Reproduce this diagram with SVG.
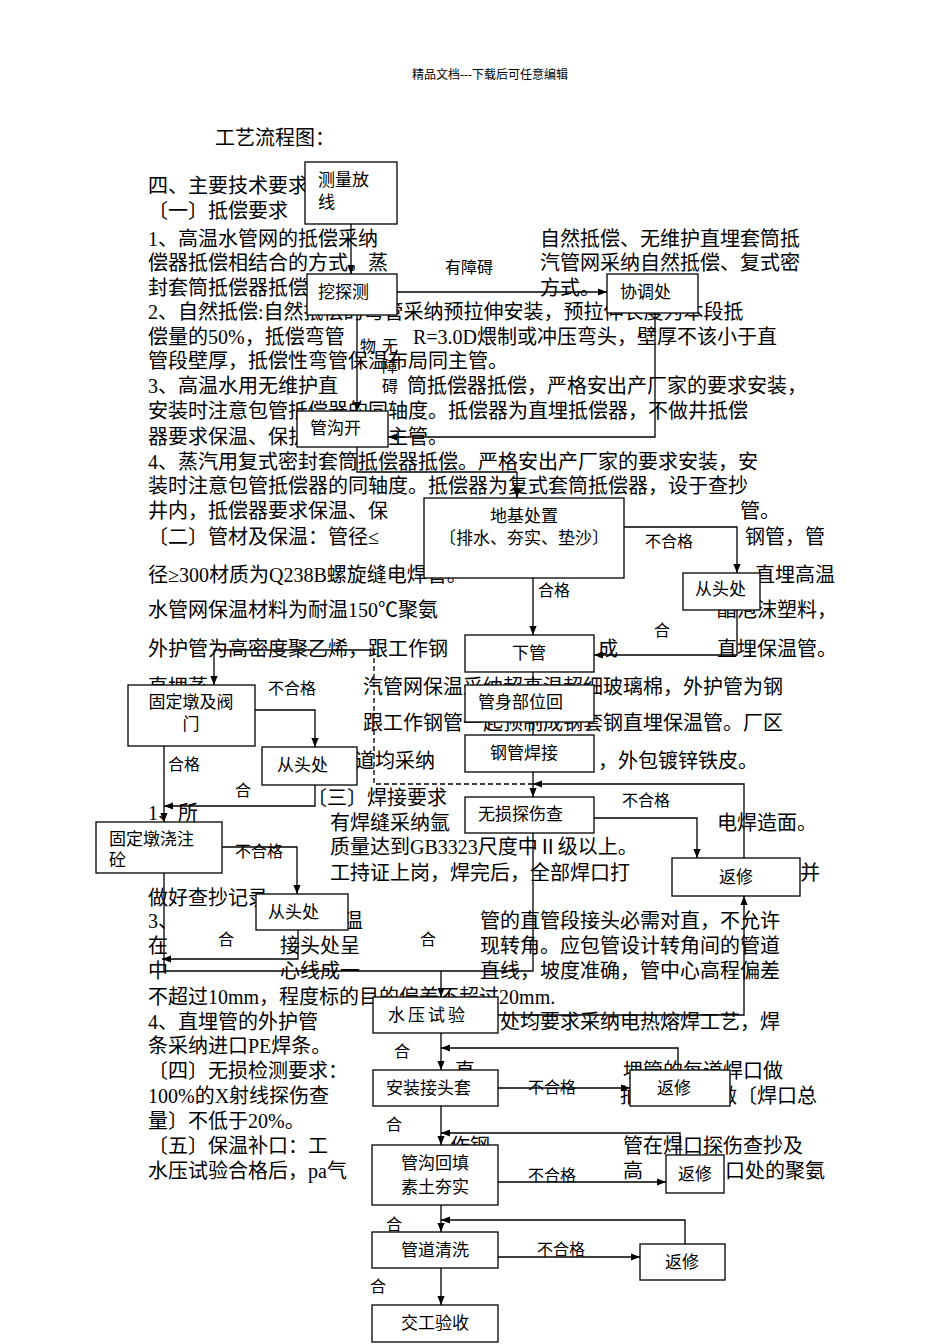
<svg xmlns="http://www.w3.org/2000/svg" width="950" height="1344" viewBox="0 0 950 1344">
<defs>
<marker id="a" viewBox="0 0 10 10" refX="10" refY="5" markerWidth="7" markerHeight="7" orient="auto"><path d="M0,1 L10,5 L0,9 z" fill="#000"/></marker>
<style>
text{font-family:"Liberation Serif","Noto Sans CJK SC",serif;fill:#000}
.b{font-size:20px}
.n{font-size:17px}
.l{font-size:16px}
rect{fill:#fff;stroke:#000;stroke-width:1.3}
.c path{fill:none;stroke:#000;stroke-width:1.3;marker-end:url(#a)}
.c .p{marker-end:none}
.c .d{stroke-dasharray:5,3;marker-end:none}
</style>
</defs>
<rect x="0" y="0" width="950" height="1344" style="stroke:none"/>
<g id="bodytext" class="b">
<text x="490" y="79" text-anchor="middle" style="font-size:12px">精品文档---下载后可任意编辑</text>
<text x="215" y="145">工艺流程图：</text>
<text x="148" y="193">四、主要技术要求</text>
<text x="148" y="218">〔一〕抵偿要求</text>
<text x="148" y="246">1、高温水管网的抵偿采纳</text><text x="540" y="246">自然抵偿、无维护直埋套筒抵</text>
<text x="148" y="270">偿器抵偿相结合的方式。蒸</text><text x="540" y="270">汽管网采纳自然抵偿、复式密</text>
<text x="148" y="295">封套筒抵偿器抵偿的</text><text x="540" y="295">方式。</text>
<text x="148" y="319">2、自然抵偿:自然抵偿的弯管采纳预拉伸安装，预拉伸长度为本段抵</text>
<text x="148" y="344">偿量的50%，抵偿弯管</text><text x="413" y="344">R=3.0D煨制或冲压弯头，壁厚不该小于直</text>
<text x="148" y="368">管段壁厚，抵偿性弯管保温布局同主管。</text>
<text x="148" y="393">3、高温水用无维护直</text><text x="407" y="393">筒抵偿器抵偿，严格安出产厂家的要求安装，</text>
<text x="148" y="418">安装时注意包管抵偿器的同轴度。抵偿器为直埋抵偿器，不做井抵偿</text>
<text x="148" y="444">器要求保温、保护，效果同主管。</text>
<text x="148" y="469">4、蒸汽用复式密封套筒抵偿器抵偿。严格安出产厂家的要求安装，安</text>
<text x="148" y="493">装时注意包管抵偿器的同轴度。抵偿器为复式套筒抵偿器，设于查抄</text>
<text x="148" y="518">井内，抵偿器要求保温、保</text><text x="740" y="518">管。</text>
<text x="148" y="544">〔二〕管材及保温：管径≤</text><text x="745" y="544">钢管，管</text>
<text x="148" y="582">径≥300材质为Q238B螺旋缝电焊管。</text><text x="755" y="582">直埋高温</text>
<text x="148" y="617">水管网保温材料为耐温150℃聚氨</text><text x="717" y="617">酯泡沫塑料，</text>
<text x="148" y="656">外护管为高密度聚乙烯，跟工作钢</text><text x="598" y="656">成</text><text x="717" y="656">直埋保温管。</text>
<text x="148" y="694">直埋蒸</text><text x="363" y="694">汽管网保温采纳超高温超细玻璃棉，外护管为钢</text>
<text x="363" y="730">跟工作钢管一起预制成钢套钢直埋保温管。厂区</text>
<text x="335" y="768">管道均采纳</text><text x="598" y="768">，外包镀锌铁皮。</text>
<text x="148" y="820">1、所</text><text x="307" y="805">〔三〕焊接要求</text>
<text x="330" y="830">有焊缝采纳氩</text><text x="717" y="830">电焊造面。</text>
<text x="330" y="854">质量达到GB3323尺度中Ⅱ级以上。</text>
<text x="330" y="880">工持证上岗，焊完后，全部焊口打</text><text x="800" y="880">并</text>
<text x="148" y="905">做好查抄记录</text>
<text x="148" y="928">3、</text><text x="343" y="928">温</text><text x="480" y="928">管的直管段接头必需对直，不允许</text>
<text x="148" y="953">在</text><text x="280" y="953">接头处呈</text><text x="480" y="953">现转角。应包管设计转角间的管道</text>
<text x="148" y="978">中</text><text x="280" y="978">心线成一</text><text x="480" y="978">直线，坡度准确，管中心高程偏差</text>
<text x="148" y="1004">不超过10mm，程度标的目的偏差不超过20mm.</text>
<text x="148" y="1029">4、直埋管的外护管</text><text x="500" y="1029">处均要求采纳电热熔焊工艺，焊</text>
<text x="148" y="1053">条采纳进口PE焊条。</text>
<text x="148" y="1078">〔四〕无损检测要求：</text><text x="455" y="1078">直</text><text x="623" y="1078">埋管的每道焊口做</text>
<text x="148" y="1103">100%的X射线探伤查</text><text x="620" y="1103">抽</text><text x="717" y="1103">做〔焊口总</text>
<text x="148" y="1128">量〕不低于20%。</text>
<text x="148" y="1153">〔五〕保温补口：工</text><text x="450" y="1153">作钢</text><text x="623" y="1153">管在焊口探伤查抄及</text>
<text x="148" y="1178">水压试验合格后，pa气</text><text x="623" y="1178">高</text><text x="725" y="1178">口处的聚氨</text>
</g>
<g id="n1"><rect x="305" y="162" width="92" height="62"/><text class="n" x="318" y="186">测量放</text><text class="n" x="318" y="208">线</text></g>
<g id="n2"><rect x="307" y="274" width="90" height="41"/><text class="n" x="318" y="298">挖探测</text></g>
<g id="n3"><rect x="607" y="274" width="91" height="39"/><text class="n" x="620" y="298">协调处</text></g>
<g id="n4"><rect x="297" y="411" width="91" height="36"/><text class="n" x="310" y="434">管沟开</text></g>
<g id="n5"><rect x="424" y="498" width="200" height="80"/><text class="n" x="524" y="522" text-anchor="middle">地基处置</text><text class="n" x="524" y="544" text-anchor="middle">〔排水、夯实、垫沙〕</text></g>
<g id="n6"><rect x="683" y="573" width="77" height="37"/><text class="n" x="695" y="595">从头处</text></g>
<g id="n7"><rect x="465" y="635" width="129" height="37"/><text class="n" x="529" y="659" text-anchor="middle">下管</text></g>
<g id="n8"><rect x="465" y="685" width="129" height="37"/><text class="n" x="478" y="708">管身部位回</text></g>
<g id="n9"><rect x="465" y="735" width="129" height="37"/><text class="n" x="490" y="759">钢管焊接</text></g>
<g id="n10"><rect x="465" y="797" width="129" height="36"/><text class="n" x="478" y="820">无损探伤查</text></g>
<g id="n11"><rect x="672" y="858" width="128" height="38"/><text class="n" x="736" y="883" text-anchor="middle">返修</text></g>
<g id="n12"><rect x="128" y="685" width="127" height="61"/><text class="n" x="191" y="708" text-anchor="middle">固定墩及阀</text><text class="n" x="191" y="730" text-anchor="middle">门</text></g>
<g id="n13"><rect x="262" y="747" width="95" height="38"/><text class="n" x="277" y="771">从头处</text></g>
<g id="n14"><rect x="96" y="822" width="126" height="51"/><text class="n" x="109" y="845">固定墩浇注</text><text class="n" x="109" y="866">砼</text></g>
<g id="n15"><rect x="256" y="894" width="92" height="36"/><text class="n" x="268" y="918">从头处</text></g>
<g id="n16"><rect x="373" y="997" width="125" height="36"/><text class="n" x="388" y="1021" style="letter-spacing:3px">水压试验</text></g>
<g id="n17"><rect x="373" y="1070" width="125" height="36"/><text class="n" x="386" y="1094">安装接头套</text></g>
<g id="n18"><rect x="630" y="1070" width="100" height="36"/><text class="n" x="674" y="1094" text-anchor="middle">返修</text></g>
<g id="n19"><rect x="372" y="1145" width="126" height="60"/><text class="n" x="435" y="1169" text-anchor="middle">管沟回填</text><text class="n" x="435" y="1193" text-anchor="middle">素土夯实</text></g>
<g id="n20"><rect x="666" y="1155" width="58" height="38"/><text class="n" x="695" y="1180" text-anchor="middle">返修</text></g>
<g id="n21"><rect x="372" y="1232" width="126" height="36"/><text class="n" x="435" y="1256" text-anchor="middle">管道清洗</text></g>
<g id="n22"><rect x="640" y="1244" width="85" height="36"/><text class="n" x="682" y="1268" text-anchor="middle">返修</text></g>
<g id="n23"><rect x="372" y="1305" width="126" height="37"/><text class="n" x="435" y="1329" text-anchor="middle">交工验收</text></g>
<g class="c" id="connectors">
<path d="M351,224 V274"/>
<path d="M397,292 H607"/>
<path d="M655,313 V437 H388"/>
<path d="M357,315 V411"/>
<path class="p" d="M357,447 V472 H517"/>
<path d="M517,472 V498"/>
<path d="M533,578 V635"/>
<path d="M624,527 H737 V573"/>
<path d="M737,610 V655 H594"/>
<path class="p" d="M533,672 V685"/>
<path class="p" d="M533,722 V735"/>
<path d="M533,772 V797"/>
<path class="p" d="M214,650 H374"/>
<path d="M214,650 V685"/>
<path class="d" d="M374,650 V784 H533"/>
<path d="M255,710 H315 V747"/>
<path d="M164,746 V822"/>
<path d="M315,785 V806 H164"/>
<path d="M222,847 H297 V894"/>
<path d="M298,930 V959 H162"/>
<path class="p" d="M164,873 V971 H533 V833"/>
<path d="M441,971 V997"/>
<path d="M594,818 H697 V858"/>
<path d="M744,858 V784 H533"/>
<path d="M498,1015 H744 V896"/>
<path d="M441,1033 V1070"/>
<path d="M498,1088 H630"/>
<path d="M678,1070 V1048 H441"/>
<path d="M441,1106 V1145"/>
<path d="M680,1155 V1133 H441"/>
<path d="M498,1182 H666"/>
<path d="M441,1205 V1232"/>
<path d="M685,1244 V1220 H441"/>
<path d="M498,1257 H640"/>
<path d="M441,1268 V1305"/>
</g>
<g id="labels" class="l">
<text x="445" y="273">有障碍</text>
<text x="360" y="352">物</text>
<text x="382" y="352">无</text><text x="382" y="372">障</text><text x="382" y="392">碍</text>
<text x="645" y="547">不合格</text>
<text x="538" y="596">合格</text>
<text x="654" y="636">合</text>
<text x="268" y="694">不合格</text>
<text x="168" y="770">合格</text>
<text x="235" y="796">合</text>
<text x="235" y="857">不合格</text>
<text x="218" y="945">合</text>
<text x="420" y="945">合</text>
<text x="622" y="806">不合格</text>
<text x="394" y="1057">合</text>
<text x="528" y="1093">不合格</text>
<text x="386" y="1130">合</text>
<text x="528" y="1181">不合格</text>
<text x="386" y="1230">合</text>
<text x="537" y="1255">不合格</text>
<text x="370" y="1292">合</text>
</g>
</svg>
